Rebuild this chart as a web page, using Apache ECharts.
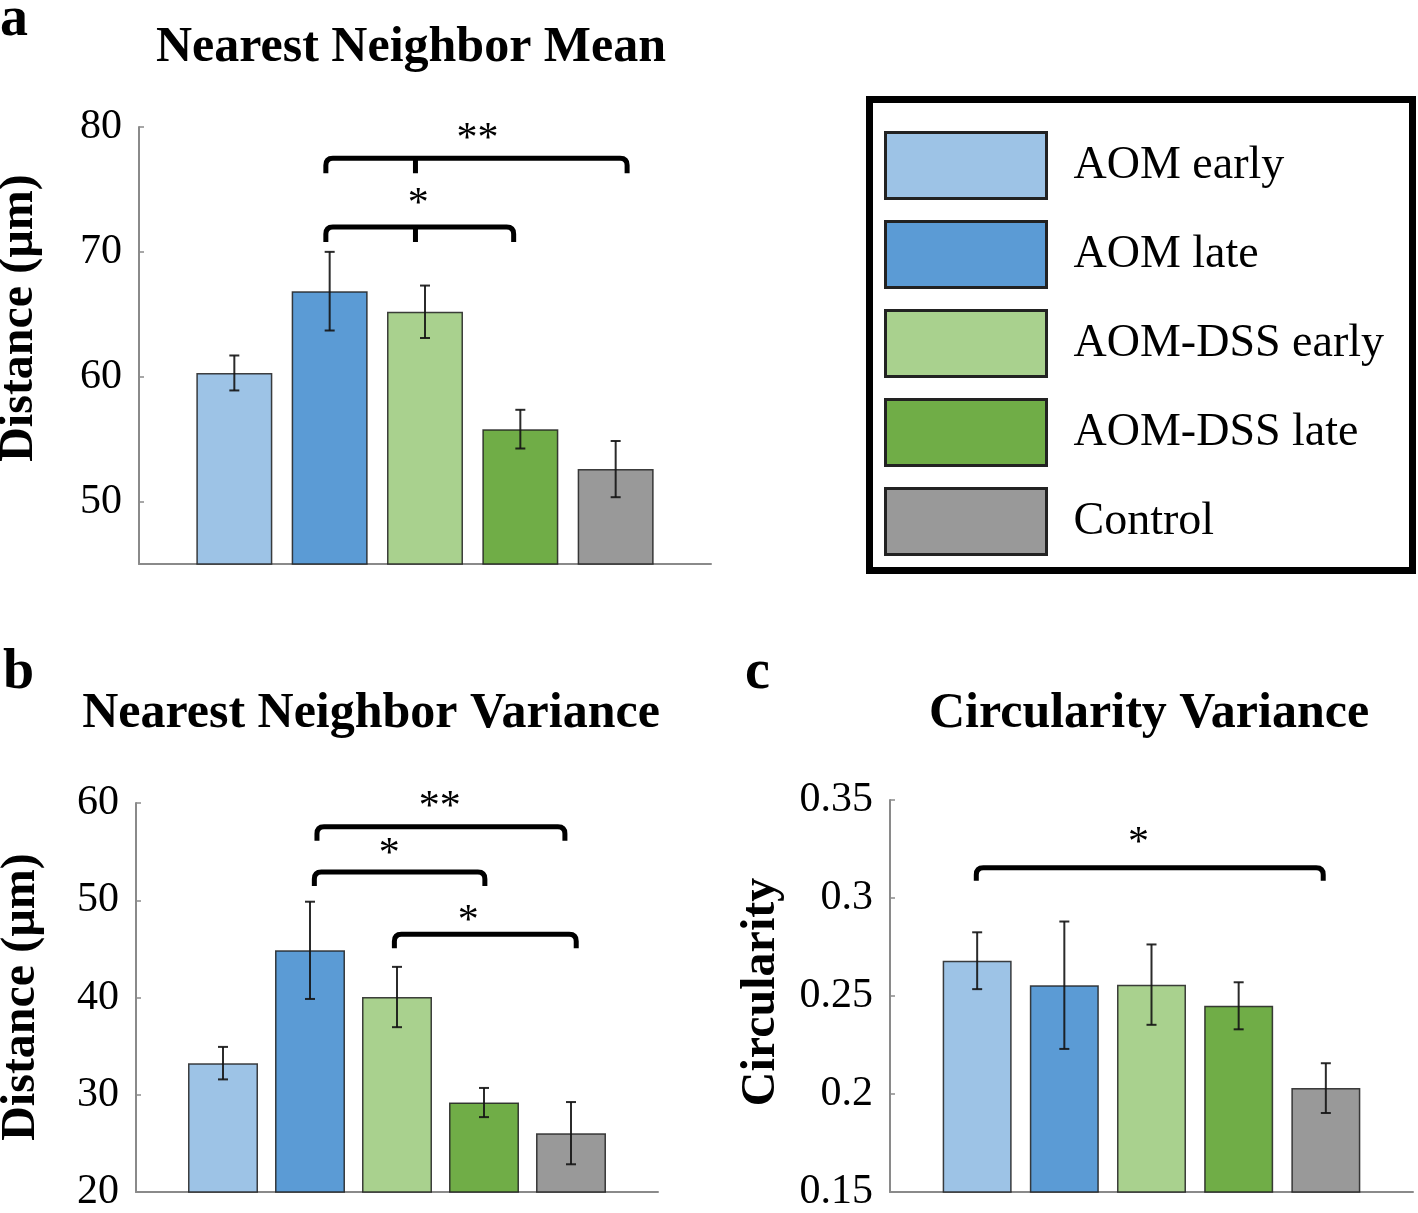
<!DOCTYPE html>
<html><head><meta charset="utf-8">
<script src="https://cdn.jsdelivr.net/npm/echarts@6/dist/echarts.min.js"></script>
<style>html,body{margin:0;padding:0;background:#fff}#c{width:1418px;height:1213px}</style>
</head><body><div id="c"></div>
<script>
// ---------- data ----------
const groups = ['AOM early', 'AOM late', 'AOM-DSS early', 'AOM-DSS late', 'Control'];
const meanValues = [60.3, 66.85, 65.2, 55.8, 52.6];
const meanErrors = [1.4, 3.15, 2.1, 1.55, 2.25];
const varValues = [33.25, 44.85, 40.05, 29.2, 26.05];
const varErrors = [1.67, 5.0, 3.1, 1.5, 3.2];
const circValues = [0.268, 0.2555, 0.2558, 0.245, 0.203];
const circErrors = [0.0145, 0.0325, 0.0205, 0.012, 0.0127];
const meanTicks = [50, 60, 70, 80];
const varTicks = [20, 30, 40, 50, 60];
const circTicks = [0.15, 0.2, 0.25, 0.3, 0.35];
// significance brackets (category position units / value units)
const meanSig = [
  {from: 1.96, to: 5.12, level: 77.5, mid: 2.90, label: '**', labelX: 3.55, labelLevel: 79.6},
  {from: 1.96, to: 3.93, level: 72.0, mid: 2.90, label: '*', labelX: 2.93, labelLevel: 74.4}
];
const varSig = [
  {from: 2.08, to: 4.93, level: 57.56, mid: null, label: '**', labelX: 3.49, labelLevel: 60.3},
  {from: 2.05, to: 4.01, level: 52.9, mid: null, label: '*', labelX: 2.91, labelLevel: 55.43},
  {from: 2.97, to: 5.06, level: 46.5, mid: null, label: '*', labelX: 3.82, labelLevel: 48.63}
];
const circSig = [
  {from: 0.99, to: 4.97, level: 0.3154, mid: null, label: '*', labelX: 2.85, labelLevel: 0.3317}
];

// ---------- styles ----------
const colors = ['#9DC3E6', '#5B9BD5', '#A9D18E', '#70AD47', '#999999'];
const SERIF = '"Liberation Serif", "Times New Roman", serif';
const axisGray = '#8a8a8a';

function barSeries(gi, values, widthPx) {
  return groups.map((g, i) => ({
    name: g, type: 'bar', xAxisIndex: gi, yAxisIndex: gi,
    barWidth: widthPx, barGap: '-100%',
    data: [[i + 1, values[i]]],
    itemStyle: {color: colors[i], borderColor: 'rgba(30,30,30,0.85)', borderWidth: 1.5},
    emphasis: {disabled: true}, silent: true
  }));
}

function errorSeries(gi, values, errors, cap) {
  return {
    type: 'custom', xAxisIndex: gi, yAxisIndex: gi, z: 5, silent: true,
    dimensions: ['x', 'lo', 'hi'],
    encode: {x: 0, y: [1, 2]},
    data: values.map((v, i) => [i + 1, v - errors[i], v + errors[i]]),
    renderItem(params, api) {
      const lo = api.coord([api.value(0), api.value(1)]);
      const hi = api.coord([api.value(0), api.value(2)]);
      const st = {stroke: 'rgba(20,20,20,0.9)', lineWidth: 2};
      return {type: 'group', children: [
        {type: 'line', shape: {x1: lo[0], y1: lo[1], x2: hi[0], y2: hi[1]}, style: st},
        {type: 'line', shape: {x1: lo[0] - cap, y1: lo[1], x2: lo[0] + cap, y2: lo[1]}, style: st},
        {type: 'line', shape: {x1: hi[0] - cap, y1: hi[1], x2: hi[0] + cap, y2: hi[1]}, style: st}
      ]};
    }
  };
}

function bracketSeries(gi, sigs, drop) {
  return {
    type: 'custom', xAxisIndex: gi, yAxisIndex: gi, z: 6, silent: true, clip: false,
    data: sigs.map(s => [s.from, s.level]),
    renderItem(params, api) {
      const s = sigs[params.dataIndex];
      const a = api.coord([s.from, s.level]);
      const b = api.coord([s.to, s.level]);
      const y = a[1], yd = y + drop, r = 7;
      let d = `M${a[0]} ${yd} L${a[0]} ${y + r} Q${a[0]} ${y} ${a[0] + r} ${y} L${b[0] - r} ${y} Q${b[0]} ${y} ${b[0]} ${y + r} L${b[0]} ${yd}`;
      if (s.mid != null) {
        const m = api.coord([s.mid, s.level]);
        d += ` M${m[0]} ${y} L${m[0]} ${yd}`;
      }
      const t = api.coord([s.labelX, s.labelLevel]);
      return {type: 'group', children: [
        {type: 'path', shape: {pathData: d}, style: {fill: null, stroke: '#000', lineWidth: 5, lineJoin: 'round'}},
        {type: 'text', x: t[0], y: t[1] + 8, style: {text: s.label, fontSize: 42, fontFamily: SERIF, fill: '#000', align: 'center', verticalAlign: 'middle'}}
      ]};
    }
  };
}

function yAxisOf(gi, min, max, ticks) {
  return {
    type: 'value', gridIndex: gi, min: min, max: max,
    axisLine: {show: true, onZero: false, lineStyle: {color: axisGray, width: 2}},
    axisTick: {show: true, inside: true, length: 5, customValues: ticks, lineStyle: {color: axisGray, width: 1.5}},
    axisLabel: {show: true, customValues: ticks, fontSize: 42, fontFamily: SERIF, color: '#000', margin: 17, padding: [8, 0, 0, 0]},
    splitLine: {show: false}
  };
}
function xAxisOf(gi) {
  return {
    type: 'value', gridIndex: gi, min: 0, max: 6,
    axisLine: {show: true, onZero: false, lineStyle: {color: axisGray, width: 2}},
    axisTick: {show: false}, axisLabel: {show: false}, splitLine: {show: false}
  };
}

function txt(x, y, text, size, opts) {
  return Object.assign({type: 'text', x: x, y: y, silent: true,
    style: Object.assign({text: text, fontSize: size, fontFamily: SERIF, fontWeight: 'bold', fill: '#000', align: 'center', verticalAlign: 'middle'}, (opts && opts.style) || {})},
    (opts && opts.el) || {});
}

const chart = echarts.init(document.getElementById('c'), null, {renderer: 'canvas'});
chart.setOption({
  animation: false,
  backgroundColor: '#fff',
  grid: [
    {left: 139, top: 127, width: 572, height: 437},
    {left: 136, top: 803, width: 522, height: 394},
    {left: 890, top: 800, width: 523, height: 393}
  ],
  xAxis: [xAxisOf(0), xAxisOf(1), xAxisOf(2)],
  yAxis: [yAxisOf(0, 45, 80, meanTicks), yAxisOf(1, 20, 60, varTicks), yAxisOf(2, 0.15, 0.35, circTicks)],
  legend: {
    data: groups, orient: 'vertical', left: 879, top: 126, padding: 5,
    itemWidth: 161, itemHeight: 66, itemGap: 20, icon: 'rect', selectedMode: false,
    itemStyle: {borderColor: '#222', borderWidth: 3},
    textStyle: {fontSize: 46, lineHeight: 60, fontFamily: SERIF, color: '#000', padding: [0, 0, 0, 22]}
  },
  graphic: [
    {type: 'rect', shape: {x: 869.5, y: 99.5, width: 543, height: 471}, style: {fill: null, stroke: '#000', lineWidth: 7}, silent: true},
    txt(0, 21, 'a', 56, {style: {align: 'left'}}),
    txt(3, 674, 'b', 56, {style: {align: 'left'}}),
    txt(745, 674, 'c', 56, {style: {align: 'left'}}),
    txt(411, 48, 'Nearest Neighbor Mean', 50),
    txt(371, 714, 'Nearest Neighbor Variance', 50),
    txt(1149, 714, 'Circularity Variance', 50),
    txt(20, 318, 'Distance (µm)', 48, {el: {rotation: Math.PI / 2}}),
    txt(22, 997, 'Distance (µm)', 48, {el: {rotation: Math.PI / 2}}),
    txt(762, 992, 'Circularity', 48, {el: {rotation: Math.PI / 2}})
  ],
  series: [].concat(
    barSeries(0, meanValues, 76), [errorSeries(0, meanValues, meanErrors, 5), bracketSeries(0, meanSig, 15)],
    barSeries(1, varValues, 70), [errorSeries(1, varValues, varErrors, 5), bracketSeries(1, varSig, 14)],
    barSeries(2, circValues, 69), [errorSeries(2, circValues, circErrors, 5), bracketSeries(2, circSig, 13)]
  )
});
</script>
</body></html>
